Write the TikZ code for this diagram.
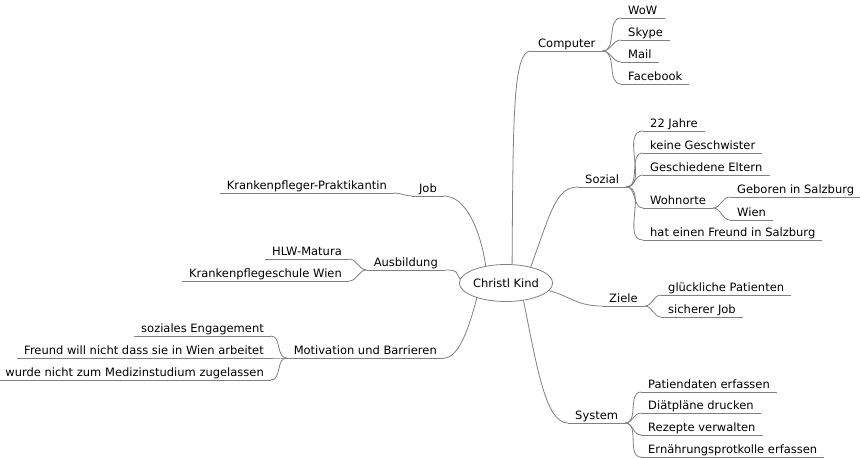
\documentclass[tikz,border=0pt]{standalone}
\usepackage{fontspec}
\setmainfont{DejaVu Sans}
\usetikzlibrary{shapes.geometric}
\begin{document}
\begin{tikzpicture}[x=1pt,y=-1pt,
  idea/.style={inner xsep=7pt,inner ysep=0.5pt,text height=8.5pt,text depth=3pt,font=\fontsize{11.5}{13}\selectfont},
  rt/.style={idea,anchor=south west},
  lt/.style={idea,anchor=south east},
  link/.style={draw=black!50,line width=0.8pt}]
\useasboundingbox (0,0) rectangle (860,458);
\node[ellipse,link,minimum width=83pt,minimum height=37pt,inner sep=0pt,font=\fontsize{11.5}{13}\selectfont] (root) at (506,283) {Christl Kind};
% right side
\node[rt] (computer) at (531,51) {Computer};
\node[rt] (wow) at (621,18) {WoW};
\node[rt] (skype) at (621,40) {Skype};
\node[rt] (mail) at (621,62) {Mail};
\node[rt] (facebook) at (621,84) {Facebook};
\node[rt] (sozial) at (578,187) {Sozial};
\node[rt] (jahre) at (643,131) {22 Jahre};
\node[rt] (geschwister) at (643,153) {keine Geschwister};
\node[rt] (eltern) at (643,175) {Geschiedene Eltern};
\node[rt] (wohnorte) at (643,208) {Wohnorte};
\node[rt] (geboren) at (730,197) {Geboren in Salzburg};
\node[rt] (wien) at (730,220) {Wien};
\node[rt] (freund) at (643,240) {hat einen Freund in Salzburg};
\node[rt] (ziele) at (602,306) {Ziele};
\node[rt] (patienten) at (661,295) {glückliche Patienten};
\node[rt] (sicher) at (661,317) {sicherer Job};
\node[rt] (system) at (568,423) {System};
\node[rt] (daten) at (641,392) {Patiendaten erfassen};
\node[rt] (diaet) at (641,413) {Diätpläne drucken};
\node[rt] (rezepte) at (641,435) {Rezepte verwalten};
\node[rt] (protokolle) at (641,457) {Ernährungsprotkolle erfassen};
% left side
\node[lt] (job) at (444,196) {Job};
\node[lt] (praktikantin) at (394,193) {Krankenpfleger-Praktikantin};
\node[lt] (ausbildung) at (445,270) {Ausbildung};
\node[lt] (matura) at (349,259) {HLW-Matura};
\node[lt] (schule) at (349,281) {Krankenpflegeschule Wien};
\node[lt] (motivation) at (444,358) {Motivation und Barrieren};
\node[lt] (engagement) at (271,336) {soziales Engagement};
\node[lt] (arbeit) at (271,358) {Freund will nicht dass sie in Wien arbeitet};
\node[lt] (studium) at (271,380) {wurde nicht zum Medizinstudium zugelassen};
% underlines
\foreach \n in {computer,wow,skype,mail,facebook,sozial,jahre,geschwister,eltern,wohnorte,geboren,wien,freund,ziele,patienten,sicher,system,daten,diaet,rezepte,protokolle,job,praktikantin,ausbildung,matura,schule,motivation,engagement,arbeit,studium}
  \draw[link] (\n.south west) -- (\n.south east);
% from the root
\draw[link] (root.72) .. controls +(1,-150) and +(-18,0) .. (computer.south west);
\draw[link] (root.33) .. controls +(20,-55) and +(-22,0) .. (sozial.south west);
\draw[link] (root.-10) .. controls +(22,6) and +(-25,0) .. (ziele.south west);
\draw[link] (root.-45) .. controls +(14,70) and +(-22,0) .. (system.south west);
\draw[link] (root.207) .. controls +(-8,30) and +(15,0) .. (motivation.south east);
\draw[link] (root.175) .. controls +(-5,-7) and +(14,0) .. (ausbildung.south east);
\draw[link] (root.140) .. controls +(-5,-35) and +(22,0) .. (job.south east);
% children right
\foreach \n in {wow,skype,mail,facebook}
  \draw[link] (computer.south east) to[out=0,in=180] (\n.south west);
\foreach \n in {jahre,geschwister,eltern,wohnorte,freund}
  \draw[link] (sozial.south east) to[out=0,in=180] (\n.south west);
\foreach \n in {geboren,wien}
  \draw[link] (wohnorte.south east) to[out=0,in=180] (\n.south west);
\foreach \n in {patienten,sicher}
  \draw[link] (ziele.south east) to[out=0,in=180] (\n.south west);
\foreach \n in {daten,diaet,rezepte,protokolle}
  \draw[link] (system.south east) to[out=0,in=180] (\n.south west);
% children left
\draw[link] (job.south west) to[out=180,in=0] (praktikantin.south east);
\foreach \n in {matura,schule}
  \draw[link] (ausbildung.south west) to[out=180,in=0] (\n.south east);
\foreach \n in {engagement,arbeit,studium}
  \draw[link] (motivation.south west) to[out=180,in=0] (\n.south east);
\end{tikzpicture}
\end{document}
